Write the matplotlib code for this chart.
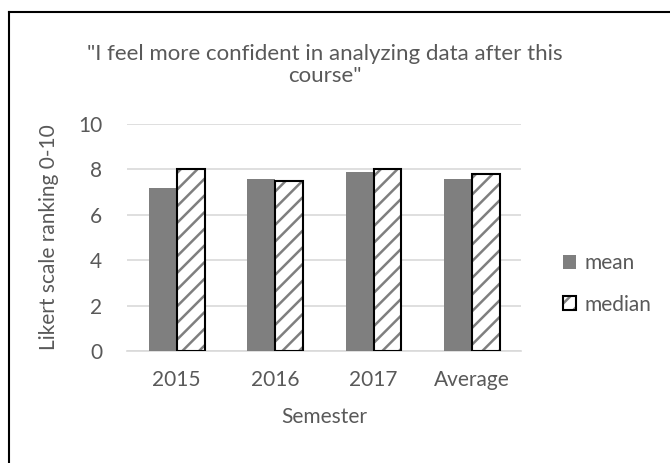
import numpy as np
import matplotlib
matplotlib.use('Agg')
import matplotlib.pyplot as plt
from matplotlib.lines import Line2D

# data
semesters = ['2015', '2016', '2017', 'Average']
mean_vals = [7.2, 7.6, 7.9, 7.6]
median_vals = [8.0, 7.5, 8.0, 7.8]

plt.rcParams['font.family'] = ['Lato', 'DejaVu Sans']
plt.rcParams['hatch.linewidth'] = 1.8
plt.rcParams['hatch.color'] = '#7f7f7f'
txt = '#595959'
fs = 15

fig = plt.figure(figsize=(6.7, 4.63), dpi=100)
ax = fig.add_axes([0.19, 0.242, 0.588, 0.49])

x = np.arange(len(semesters))
w = 0.284
b1 = ax.bar(x - w/2, mean_vals, w, color='#7f7f7f', zorder=3)
b2 = ax.bar(x + w/2, median_vals, w, color='white', hatch='//', edgecolor='#7f7f7f',
            linewidth=0, zorder=3)
b3 = ax.bar(x + w/2, median_vals, w, fill=False, edgecolor='black', linewidth=1.5, zorder=4)

ax.set_xlim(-0.5, len(semesters) - 0.5)
ax.set_ylim(0, 10)
ax.set_yticks(np.arange(0, 11, 2))
ax.set_xticks(x)
ax.set_xticklabels(semesters)
ax.yaxis.grid(True, color='#d9d9d9', linewidth=1.2, zorder=0)
ax.set_axisbelow(True)
for s in ['top', 'right', 'left']:
    ax.spines[s].set_visible(False)
ax.spines['bottom'].set_color('#d9d9d9')
ax.spines['bottom'].set_linewidth(1.2)
ax.tick_params(axis='both', length=0, labelsize=fs, labelcolor=txt)
ax.tick_params(axis='y', pad=18)
ax.tick_params(axis='x', pad=14)

ax.set_xlabel('Semester', fontsize=fs, color=txt, labelpad=12)
ax.set_ylabel('Likert scale ranking 0-10', fontsize=fs, color=txt, labelpad=14)
fig.text(0.485, 0.86, '"I feel more confident in analyzing data after this\ncourse"',
         ha='center', va='center', fontsize=16, color=txt, linespacing=1.12)

fig.legend([b1[0], (b2[0], b3[0])], ['mean', 'median'], loc='center left',
           bbox_to_anchor=(0.812, 0.387), frameon=False, fontsize=fs,
           labelcolor=txt, handlelength=0.65, handleheight=0.65, handletextpad=0.4,
           labelspacing=1.05)

# chart border (top and left visible)
fig.add_artist(Line2D([0.0135, 1.0], [1 - 12/463, 1 - 12/463], color='black', lw=1.5,
                      transform=fig.transFigure))
fig.add_artist(Line2D([0.0135, 0.0135], [0, 1 - 12/463], color='black', lw=1.5,
                      transform=fig.transFigure))

fig.savefig('out.png', dpi=100)
